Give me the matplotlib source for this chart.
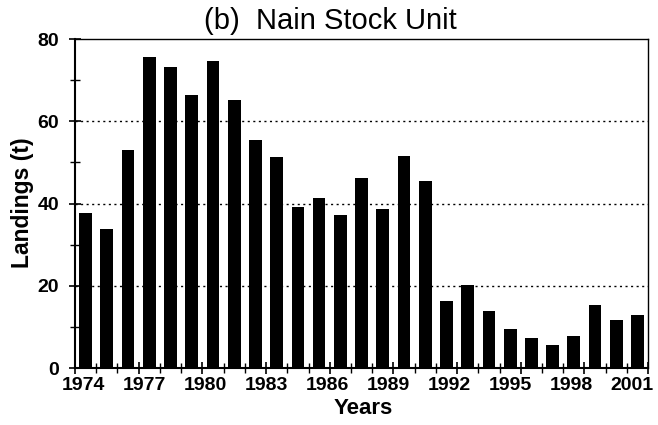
import matplotlib
matplotlib.use("Agg")
import matplotlib.pyplot as plt
from matplotlib.ticker import MultipleLocator
from matplotlib.transforms import ScaledTranslation

years = list(range(1974, 2001))
landings = [37.8, 33.9, 53.0, 75.7, 73.3, 66.3, 74.6, 65.2, 55.5, 51.4,
            39.1, 41.4, 37.3, 46.1, 38.7, 51.6, 45.5, 16.4, 20.2, 13.8,
            9.6, 7.4, 5.6, 7.7, 15.3, 11.6, 12.8]
xtick_years = list(range(1974, 2002, 3))
xtick_labels = [str(y) for y in xtick_years]
yticks = [0, 20, 40, 60, 80]

plt.rcParams['font.family'] = ['Liberation Sans', 'DejaVu Sans']

fig = plt.figure(figsize=(6.58, 4.25), dpi=100)
ax = fig.add_axes([0.114, 0.134, 0.871, 0.774])

ax.bar([y + 0.5 for y in years], landings, width=0.6, color='black', zorder=3)

ax.set_xlim(1974, 2001)
ax.set_ylim(0, 80)
ax.set_xticks(xtick_years)
ax.set_xticklabels([])
ax.xaxis.set_minor_locator(MultipleLocator(1))
ax.set_yticks(yticks)
ax.set_yticklabels([str(v) for v in yticks], fontsize=14, fontweight='bold')
ax.yaxis.set_minor_locator(MultipleLocator(10))

# year labels, drawn slightly compressed as in the original figure
n = len(xtick_labels)
for i, (yr, lab) in enumerate(zip(xtick_years, xtick_labels)):
    dx = (8 - 24 * i / (n - 1)) / 100.0
    tr = ax.get_xaxis_transform() + ScaledTranslation(dx, -0.09, fig.dpi_scale_trans)
    ax.text(yr, 0, lab, transform=tr, ha='center', va='top',
            fontsize=14, fontweight='bold', clip_on=False)

ax.tick_params(axis='both', which='major', direction='inout', length=9, width=1.2)
ax.tick_params(axis='y', which='major', pad=7)
ax.tick_params(axis='both', which='minor', direction='inout', length=7, width=1.0)

for v in [20, 40, 60]:
    ax.axhline(v, color='black', linestyle=(0, (1.5, 2.5)), linewidth=1.0, zorder=1)

for s in ax.spines.values():
    s.set_linewidth(1.0)
ax.spines['left'].set_linewidth(1.5)
ax.spines['bottom'].set_linewidth(1.5)

fig.text(363 / 658, 1 - 409 / 425, 'Years', fontsize=16, fontweight='bold',
         ha='center', va='center')
fig.text(22 / 658, 1 - 203 / 425, 'Landings (t)', fontsize=16.5, fontweight='bold',
         ha='center', va='center', rotation=90)

fig.text(330 / 658, 1 - 21 / 425, '(b)  Nain Stock Unit', fontsize=21,
         ha='center', va='center')

fig.savefig('out.png', dpi=100)
